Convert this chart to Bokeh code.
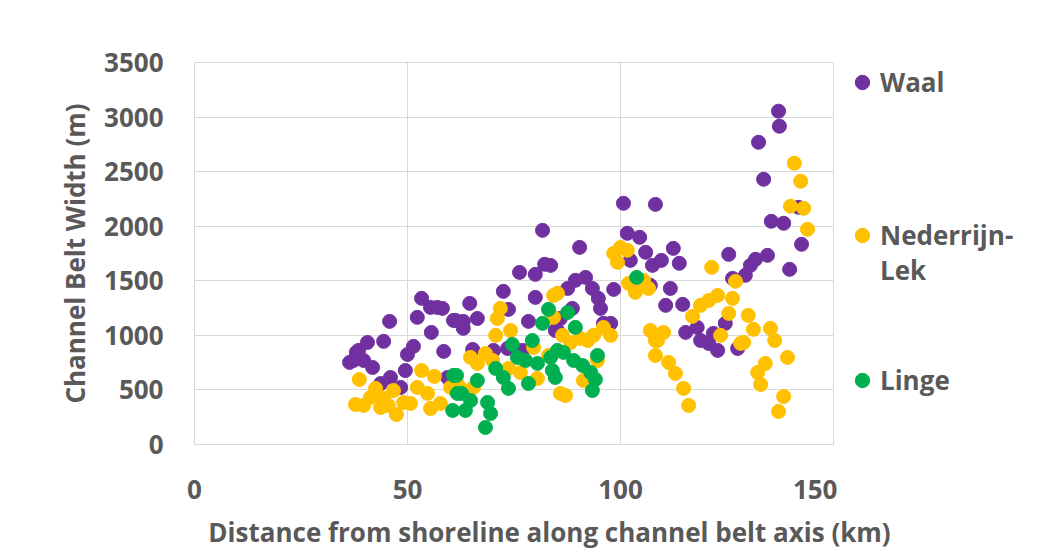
from bokeh.plotting import figure
from bokeh.layouts import row, column
from bokeh.models import Legend, LegendItem, Range1d, FixedTicker
from bokeh.embed import file_html
from bokeh.resources import INLINE

waal_x = [36.4, 38.0, 37.3, 38.5, 39.7, 40.6, 41.8, 44.4, 45.8, 43.7, 46.0, 48.4, 49.5, 50.0, 51.4,
          52.3, 53.3, 55.4, 57.0, 58.2, 55.6, 58.5, 59.4, 60.8, 61.3, 63.1, 63.1, 64.6, 66.4, 65.3,
          70.2, 72.5, 73.7, 73.5, 76.3, 77.0, 78.4, 80.0, 80.0, 81.7, 82.2, 83.6, 84.7, 85.2, 85.9,
          87.6, 88.7, 89.4, 90.4, 91.8, 93.4, 94.8, 95.3, 96.0, 97.7, 98.4, 100.7, 101.6, 102.3, 104.5,
          105.9, 107.5, 107.0, 108.2, 109.6, 110.6, 111.7, 112.4, 113.8, 114.6, 115.3, 118.0, 118.8,
          120.7, 121.8, 122.8, 124.6, 125.4, 126.3, 127.5, 129.3, 130.5, 131.7, 132.4, 133.6, 134.5,
          135.4, 137.1, 137.3, 138.3, 139.7, 141.8, 142.5]
waal_y = [752, 844, 770, 862, 770, 935, 706, 945, 1128, 559, 614, 523, 678, 825, 899,
          1165, 1339, 1256, 1256, 1247, 1027, 853, 614, 1137, 1137, 1128, 1064, 1293, 1155, 871,
          862, 1403, 1238, 880, 1577, 862, 1128, 1559, 1348, 1962, 1651, 1641, 1045, 1045, 1155,
          1430, 1247, 1504, 1806, 1531, 1430, 1339, 1247, 1110, 1110, 1421, 2210, 1935, 1687, 1898,
          1761, 1641, 1458, 2200, 1687, 1275, 1430, 1797, 1660, 1284, 1027, 1073, 953,
          926, 1018, 862, 1110, 1742, 1522, 880, 1550, 1641, 1697, 2769, 2430, 1733,
          2045, 3054, 2916, 2027, 1605, 2173, 1834]

ned_x = [37.8, 38.7, 39.7, 41.3, 42.5, 43.7, 44.4, 45.5, 46.7, 47.4, 49.1, 50.7, 52.3, 53.3, 54.7,
         55.4, 56.3, 57.7, 60.1, 61.7, 63.1, 64.8, 65.5, 66.4, 68.3, 70.0, 70.7, 71.1, 71.8, 73.7,
         74.2, 76.5, 79.6, 80.5, 83.1, 84.3, 84.3, 85.2, 85.9, 86.4, 87.1, 88.3, 90.6, 91.3, 92.3,
         93.7, 94.6, 96.0, 97.7, 98.4, 99.3, 100.0, 101.6, 101.9, 103.5, 105.4, 106.6, 107.0, 108.2,
         108.2, 108.7, 110.1, 111.3, 112.9, 114.8, 116.0, 116.9, 118.8, 120.7, 121.4, 122.8, 123.5,
         125.4, 126.3, 127.0, 128.2, 128.9, 130.0, 131.2, 132.2, 132.9, 134.0, 135.2, 136.2, 137.1,
         138.3, 139.2, 139.9, 140.8, 142.3, 143.0, 143.9]
ned_y = [367, 596, 358, 431, 514, 339, 422, 358, 495, 275, 385, 376, 523, 678, 468,
         330, 624, 376, 523, 559, 495, 798, 523, 743, 834, 770, 1000, 1155, 1247, 697,
         1045, 660, 889, 605, 816, 1366, 1165, 1385, 468, 1000, 449, 935, 972, 587, 953,
         1000, 770, 1073, 1000, 1751, 1669, 1806, 1779, 1476, 1394, 1504, 1430, 1045, 953,
         816, 953, 1027, 752, 651, 514, 358, 1174, 1275, 1320, 1623, 1366, 1000,
         1201, 1339, 1495, 926, 935, 1183, 1055, 660, 550, 743, 1064, 953, 303,
         440, 798, 2183, 2577, 2412, 2164, 1972]

linge_x = [60.6, 60.8, 61.5, 61.7, 62.7, 63.6, 64.8, 66.4, 68.3, 68.8, 69.5, 70.7, 72.5, 73.7,
           74.6, 75.8, 77.7, 78.4, 79.3, 80.5, 81.7, 83.1, 83.6, 84.0, 84.7, 85.2, 86.6, 87.6,
           89.0, 89.4, 91.1, 93.0, 93.4, 94.1, 94.6, 103.8]
linge_y = [312, 633, 633, 468, 468, 312, 403, 587, 156, 385, 284, 697, 614, 514,
           917, 798, 770, 559, 953, 743, 1110, 1238, 798, 678, 614, 862, 844, 1210,
           770, 1073, 724, 660, 495, 596, 816, 1531]

series_names = ["Waal", "Nederrijn-", "Linge"]
name_continuation = "Lek"   # second line of "Nederrijn-Lek"
series_colors = ["#7030A0", "#FFC000", "#00B050"]
x_ticks = [0, 50, 100, 150]
y_ticks = [0, 500, 1000, 1500, 2000, 2500, 3000, 3500]
x_title = "Distance from shoreline along channel belt axis (km)"
y_title = "Channel Belt Width (m)"

FONT = "Open Sans"
TXT = "#595959"
GRID = "#d9d9d9"
FS = "26px"
H = 511

p = figure(frame_width=639, frame_height=382, output_backend="svg", toolbar_location=None,
           x_range=Range1d(0, 150), y_range=Range1d(0, 3500),
           min_border_left=194, min_border_top=62, min_border_bottom=H - 62 - 382, min_border_right=4,
           background_fill_color="white", border_fill_color="white")
p.outline_line_color = GRID

xs_all = [waal_x, ned_x, linge_x]
ys_all = [waal_y, ned_y, linge_y]
for xs, ys, c in zip(xs_all, ys_all, series_colors):
    p.scatter(xs, ys, size=14, color=c)

for ax in (p.xaxis[0], p.yaxis[0]):
    ax.axis_line_color = None
    ax.major_tick_line_color = None
    ax.minor_tick_line_color = None
    ax.major_label_text_font = FONT
    ax.major_label_text_font_style = "bold"
    ax.major_label_text_font_size = FS
    ax.major_label_text_color = TXT
    ax.axis_label_text_font = FONT
    ax.axis_label_text_font_style = "bold"
    ax.axis_label_text_font_size = FS
    ax.axis_label_text_color = TXT

p.xaxis.ticker = FixedTicker(ticks=x_ticks)
p.yaxis.ticker = FixedTicker(ticks=y_ticks)
p.xaxis.major_label_standoff = 29
p.yaxis.major_label_standoff = 25
p.yaxis.axis_label = y_title
p.yaxis.axis_label_standoff = 8

p.xgrid.grid_line_color = GRID
p.ygrid.grid_line_color = GRID
p.xgrid.ticker = FixedTicker(ticks=x_ticks)
p.ygrid.ticker = FixedTicker(ticks=y_ticks)

# legend panel (keys use the series' first points, which fall outside this panel's ranges)
q = figure(width=198, height=H, output_backend="svg", toolbar_location=None,
           x_axis_type=None, y_axis_type=None, x_range=Range1d(-1, -0.5), y_range=Range1d(-1, -0.5),
           min_border_left=0, min_border_right=0, min_border_top=62, min_border_bottom=H - 62 - 382,
           background_fill_color="white", border_fill_color="white")
q.outline_line_color = None
q.grid.visible = False

def add_legend(label, key, loc):
    lg = Legend(items=[LegendItem(label=label, renderers=[key])], location=loc,
                border_line_color=None, background_fill_alpha=0, padding=0, margin=0,
                glyph_width=36, glyph_height=36, label_standoff=0,
                label_text_font=FONT, label_text_font_style="bold",
                label_text_font_size=FS, label_text_color=TXT)
    q.add_layout(lg, "center")

locs = [(7, 344), (7, 191), (7, 46)]
keys = []
for name, c, loc, xs, ys in zip(series_names, series_colors, locs, xs_all, ys_all):
    key = q.scatter(xs[:1], ys[:1], size=14, color=c)
    keys.append(key)
    add_legend(name, key, loc)

blank = q.scatter(ned_x[:1], ned_y[:1], size=14, fill_alpha=0, line_alpha=0)
add_legend(name_continuation, blank, (7, 156))

# x-axis title panel, centred under the whole chart as in the reference
r = figure(width=1035, height=40, output_backend="svg", toolbar_location=None,
           x_axis_type=None, y_axis_type=None, x_range=Range1d(0, 1), y_range=Range1d(0, 1),
           min_border_left=205, min_border_right=142, min_border_top=0, min_border_bottom=0,
           background_fill_color="white", border_fill_color="white",
           title=x_title, title_location="above")
r.outline_line_color = None
r.grid.visible = False
r.title.align = "center"
r.title.text_font = FONT
r.title.text_font_style = "bold"
r.title.text_font_size = FS
r.title.text_color = TXT
r.title.standoff = 0

layout = column(row(p, q), r)
open("out.html", "w").write(file_html(layout, INLINE))
